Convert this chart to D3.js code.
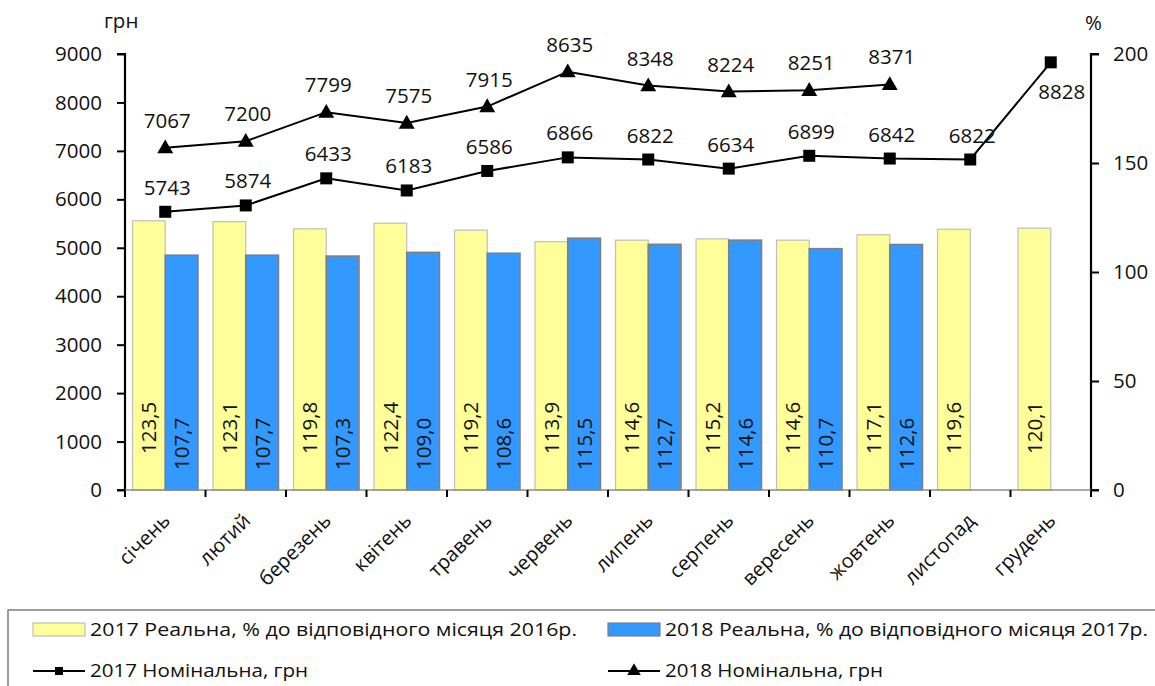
<!DOCTYPE html>
<html>
<head>
<meta charset="utf-8">
<script src="https://cdn.jsdelivr.net/npm/d3@7"></script>
<style>
  html, body { margin: 0; padding: 0; background: #fff; }
  svg { display: block; }
  text { font-family: "Open Sans", "Liberation Sans", Arial, sans-serif; fill: #111; }
</style>
</head>
<body>
<svg id="chart" width="1155" height="686"></svg>
<script>
// ---------- data ----------
const months = ['січень','лютий','березень','квітень','травень','червень','липень','серпень','вересень','жовтень','листопад','грудень'];
const real2017 = [123.5,123.1,119.8,122.4,119.2,113.9,114.6,115.2,114.6,117.1,119.6,120.1];
const real2018 = [107.7,107.7,107.3,109.0,108.6,115.5,112.7,114.6,110.7,112.6,null,null];
const nominal2017 = [5743,5874,6433,6183,6586,6866,6822,6634,6899,6842,6822,8828];
const nominal2018 = [7067,7200,7799,7575,7915,8635,8348,8224,8251,8371,null,null];
const leftTicks = [0,1000,2000,3000,4000,5000,6000,7000,8000,9000];
const rightTicks = [0,50,100,150,200];
const seriesNames = [
  '2017 Реальна, % до відповідного місяця 2016р.',
  '2018 Реальна, % до відповідного місяця 2017р.',
  '2017 Номінальна, грн',
  '2018 Номінальна, грн'
];

// ---------- layout ----------
const X0 = 125, X1 = 1091, YT = 54, YB = 490;
const FONT = '"Open Sans", "Liberation Sans", Arial, sans-serif';
const svg = d3.select('#chart');

const x = d3.scaleBand().domain(months).range([X0, X1]).padding(0);
const xSub = d3.scaleBand().domain(['a','b']).range([0, x.bandwidth()]).paddingInner(0).paddingOuter(0.23);
const yL = d3.scaleLinear().domain([0, 9000]).range([YB, YT]);
const yR = d3.scaleLinear().domain([0, 200]).range([YB, YT]);

const fmt1 = v => d3.format('.1f')(v).replace('.', ',');

// ---------- bars ----------
const barData = [];
months.forEach((m, i) => {
  if (real2017[i] != null) barData.push({m, k: 'a', v: real2017[i]});
  if (real2018[i] != null) barData.push({m, k: 'b', v: real2018[i]});
});
const colors = {a: '#FFFF99', b: '#3399FF'};
const strokes = {a: '#BFBFBF', b: '#7F7F7F'};

svg.append('g').selectAll('rect').data(barData).join('rect')
  .attr('x', d => x(d.m) + xSub(d.k))
  .attr('y', d => yR(d.v))
  .attr('width', xSub.bandwidth())
  .attr('height', d => YB - yR(d.v))
  .attr('fill', d => colors[d.k])
  .attr('stroke', d => strokes[d.k])
  .attr('stroke-width', d => d.k === 'a' ? 1.2 : 1.6);

svg.append('g').selectAll('text').data(barData).join('text')
  .attr('transform', d => {
    const cx = x(d.m) + xSub(d.k) + xSub.bandwidth() / 2;
    const by = d.k === 'a' ? 454 : 470;
    return `translate(${cx},${by}) rotate(-90)`;
  })
  .attr('dy', '0.36em')
  .attr('text-anchor', 'start')
  .style('font-size', '20.5px')
  .text(d => fmt1(d.v));

// ---------- axes ----------
const axL = svg.append('g').attr('transform', `translate(${X0},0)`)
  .call(d3.axisLeft(yL).tickValues(leftTicks).tickSize(8).tickPadding(15).tickFormat(d3.format('d')));
const axR = svg.append('g').attr('transform', `translate(${X1},0)`)
  .call(d3.axisRight(yR).tickValues(rightTicks).tickSize(8).tickPadding(14).tickFormat(d3.format('d')));
[axL, axR].forEach(ax => {
  ax.select('.domain').attr('stroke', '#000').attr('stroke-width', 2.2);
  ax.selectAll('.tick line').attr('stroke', '#000').attr('stroke-width', 2);
  ax.selectAll('.tick text').style('font-size', '20.5px').style('font-family', FONT).attr('fill', '#111');
});
axL.select('.domain').attr('d', `M-8,${YT}H0V${YB}H-8`);
axR.select('.domain').attr('d', `M8,${YT}H0V${YB}H8`);

// bottom axis (category boundaries)
const gB = svg.append('g');
gB.append('line').attr('x1', X0).attr('x2', X1).attr('y1', YB).attr('y2', YB)
  .attr('stroke', '#8c8c8c').attr('stroke-width', 1.6);
const bounds = months.map(m => x(m)).concat([x.range()[1]]);
gB.selectAll('line.tk').data(bounds).join('line').attr('class', 'tk')
  .attr('x1', d => d).attr('x2', d => d).attr('y1', YB).attr('y2', YB + 7)
  .attr('stroke', '#000').attr('stroke-width', 2);
gB.selectAll('text').data(months).join('text')
  .attr('transform', d => `translate(${x(d) + x.bandwidth() / 2 + 6},522) rotate(-45)`)
  .attr('text-anchor', 'end')
  .style('font-size', '20px')
  .text(d => d);

// unit labels
svg.append('text').attr('x', 104).attr('y', 28).style('font-size', '20.5px').text('грн');
svg.append('text').attr('x', 1085).attr('y', 30).style('font-size', '20.5px').text('%');

// ---------- lines ----------
const line = d3.line().defined(d => d.v != null)
  .x(d => x(d.m) + x.bandwidth() / 2).y(d => yL(d.v));
const s17 = months.map((m, i) => ({m, v: nominal2017[i], i}));
const s18 = months.map((m, i) => ({m, v: nominal2018[i], i}));

[s17, s18].forEach(s => {
  svg.append('path').datum(s).attr('d', line)
    .attr('fill', 'none').attr('stroke', '#000').attr('stroke-width', 2);
});

const sq = d3.symbol().type(d3.symbolSquare).size(144);
const tri = d3.symbol().type(d3.symbolTriangle).size(110);

svg.append('g').selectAll('path').data(s17.filter(d => d.v != null)).join('path')
  .attr('d', sq)
  .attr('transform', d => `translate(${x(d.m) + x.bandwidth() / 2},${yL(d.v)})`)
  .attr('fill', '#000');
svg.append('g').selectAll('path').data(s18.filter(d => d.v != null)).join('path')
  .attr('d', tri)
  .attr('transform', d => `translate(${x(d.m) + x.bandwidth() / 2},${yL(d.v) + 1})`)
  .attr('fill', '#000');

// point labels
const last17 = nominal2017.length - 1;
svg.append('g').selectAll('text').data(s17.filter(d => d.v != null)).join('text')
  .attr('x', d => x(d.m) + x.bandwidth() / 2 + (d.i === last17 ? 11 : 2))
  .attr('y', d => yL(d.v) + (d.i === last17 ? 37 : -17))
  .attr('text-anchor', 'middle')
  .style('font-size', '20.5px')
  .text(d => d.v);
svg.append('g').selectAll('text').data(s18.filter(d => d.v != null)).join('text')
  .attr('x', d => x(d.m) + x.bandwidth() / 2 + 2)
  .attr('y', d => yL(d.v) - 20)
  .attr('text-anchor', 'middle')
  .style('font-size', '20.5px')
  .text(d => d.v);

// ---------- legend ----------
const lg = svg.append('g');
lg.append('rect').attr('x', 8).attr('y', 610).attr('width', 1160).attr('height', 100)
  .attr('fill', '#fff').attr('stroke', '#7f7f7f').attr('stroke-width', 1.5);

const legendItems = [
  {name: seriesNames[0], type: 'bar', k: 'a', col: 0, row: 0, w: 487},
  {name: seriesNames[1], type: 'bar', k: 'b', col: 1, row: 0, w: 483},
  {name: seriesNames[2], type: 'sq', col: 0, row: 1, w: 218},
  {name: seriesNames[3], type: 'tri', col: 1, row: 1, w: 218}
];
const colX = [33, 608];
const rowY = [630, 671];
legendItems.forEach(it => {
  const lx = colX[it.col], ly = rowY[it.row];
  if (it.type === 'bar') {
    lg.append('rect').attr('x', lx).attr('y', ly - 7).attr('width', 52).attr('height', 13)
      .attr('fill', colors[it.k]).attr('stroke', strokes[it.k]).attr('stroke-width', 1.2);
  } else {
    lg.append('line').attr('x1', lx).attr('x2', lx + 52).attr('y1', ly).attr('y2', ly)
      .attr('stroke', '#000').attr('stroke-width', 2);
    lg.append('path').attr('d', it.type === 'sq' ? d3.symbol().type(d3.symbolSquare).size(64)() : d3.symbol().type(d3.symbolTriangle).size(80)())
      .attr('transform', `translate(${lx + 26},${ly})`).attr('fill', '#000');
  }
  lg.append('text').attr('x', lx + 57).attr('y', ly + 6)
    .style('font-size', '18px')
    .attr('textLength', it.w).attr('lengthAdjust', 'spacingAndGlyphs')
    .text(it.name);
});
</script>
</body>
</html>
